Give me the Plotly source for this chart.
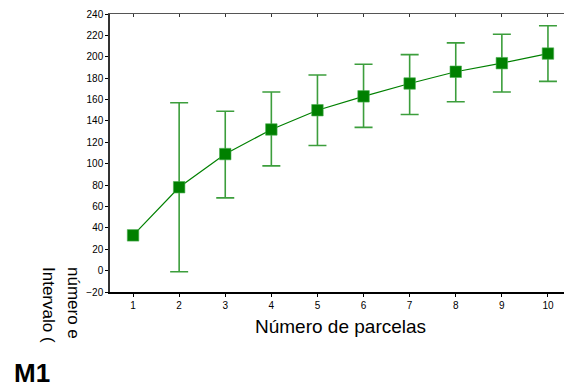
import plotly.graph_objects as go

parcelas = [1, 2, 3, 4, 5, 6, 7, 8, 9, 10]
media = [33, 78, 109, 132, 150, 163, 175, 186, 194, 203]
upper = [None, 157, 149, 167, 183, 193, 202, 213, 221, 229]
lower = [None, -1, 68, 98, 117, 134, 146, 158, 167, 177]
x_ticks = list(range(1, 11))
y_ticks = list(range(-20, 241, 20))

# error bars only where an interval exists
idx = [i for i, u in enumerate(upper) if u is not None]
ex = [parcelas[i] for i in idx]
ey = [media[i] for i in idx]
err_plus = [upper[i] - media[i] for i in idx]
err_minus = [media[i] - lower[i] for i in idx]

GREEN = "#008000"
ERR = "#3c9e3c"

fig = go.Figure()
fig.add_trace(go.Scatter(
    x=ex, y=ey, mode="markers", marker=dict(size=1, opacity=0),
    error_y=dict(type="data", symmetric=False, array=err_plus, arrayminus=err_minus,
                 color=ERR, thickness=1.6, width=9),
    showlegend=False, hoverinfo="skip",
))
fig.add_trace(go.Scatter(
    x=parcelas, y=media, mode="lines+markers",
    line=dict(color=GREEN, width=1.2),
    marker=dict(symbol="square", size=11.5, color=GREEN,
                line=dict(color="#4caf50", width=0.6)),
    showlegend=False,
))
fig.add_trace(go.Scatter(x=[parcelas[0]], y=[media[0]], xaxis="x2", yaxis="y2",
                         mode="markers", marker=dict(opacity=0), showlegend=False,
                         hoverinfo="skip"))

# page has an 8px body margin; compensate so the plot lands where intended
OFF = 8
W, H = 572 - OFF, 388 - OFF
l, r, t, b = 110 - OFF, 1, 14 - OFF, 96
pw, ph = W - l - r, H - t - b

font = dict(family="Liberation Sans, Arial, sans-serif", color="#000")
fig.update_layout(
    width=W, height=H,
    margin=dict(l=l, r=r, t=t, b=b, autoexpand=False),
    paper_bgcolor="white", plot_bgcolor="white",
    font=font,
    xaxis=dict(range=[0.5, 10.5], tickvals=x_ticks, ticks="outside", ticklen=3,
               tickcolor="#000", showline=True, linecolor="#000", linewidth=1.5,
               showgrid=False, zeroline=False, tickfont=dict(size=10, **font),
               automargin=False),
    yaxis=dict(range=[-20, 240], tickvals=y_ticks, ticks="outside", ticklen=3,
               tickcolor="#000", showline=True, linecolor="#333", linewidth=1.5,
               showgrid=False, zeroline=False, tickfont=dict(size=10, **font),
               automargin=False),
    xaxis2=dict(overlaying="x", side="top", range=[0.5, 10.5], tickvals=x_ticks,
                ticks="inside", ticklen=3, tickcolor="#333", showticklabels=False,
                showline=True, linecolor="#555", linewidth=1.2, showgrid=False,
                zeroline=False, automargin=False),
    yaxis2=dict(overlaying="y", side="right", range=[-20, 240], tickvals=y_ticks,
                ticks="inside", ticklen=3, tickcolor="#333", showticklabels=False,
                showline=True, linecolor="#555", linewidth=1.2, showgrid=False,
                zeroline=False, automargin=False),
)

def px(x):
    return (x - OFF - l) / pw

def py(y):
    return (H - b - (y - OFF)) / ph

anns = [
    dict(text="Número de parcelas", x=px(340), y=py(326), xanchor="center", yanchor="middle",
         font=dict(size=19, **font)),
    dict(text="número e", textangle=90, x=px(74), y=py(265), xanchor="center", yanchor="top",
         font=dict(size=17, **font)),
    dict(text="Intervalo (", textangle=90, x=px(49), y=py(265), xanchor="center", yanchor="top",
         font=dict(size=17, **font)),
    dict(text="<b>M1</b>", x=px(12), y=py(373), xanchor="left", yanchor="middle",
         font=dict(size=26, **font)),
]
for a in anns:
    a.update(xref="paper", yref="paper", showarrow=False)
fig.update_layout(annotations=anns)

fig.write_html("out.html")
